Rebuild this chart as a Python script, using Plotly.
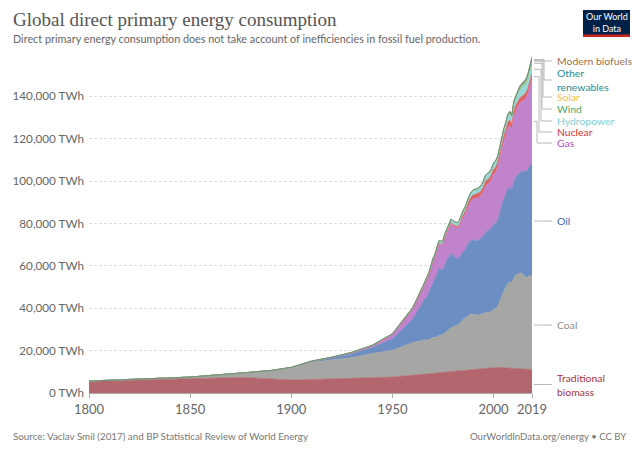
import plotly.graph_objects as go

# ---------------- data (TWh) ----------------
years = [1800, 1810, 1820, 1830, 1840, 1850, 1860, 1870, 1880, 1890, 1900, 1910, 1920, 1930, 1940, 1950, 1960] + list(range(1965, 2020))

traditional_biomass = [5556, 5833, 6111, 6389, 6667, 6944, 7222, 7222, 7222, 6667, 6111, 6389, 6667, 6944, 7222, 7500, 8333,
    8700, 8800, 8900, 9000, 9100, 9200, 9300, 9400, 9500, 9600, 9700, 9820, 9940, 10060, 10180, 10300, 10380, 10460, 10540, 10620,
    10700, 10780, 10860, 10940, 11020, 11100, 11200, 11300, 11400, 11500, 11600, 11720, 11840, 11960, 12080, 12200, 12160, 12120,
    12080, 12040, 12000, 11940, 11880, 11820, 11760, 11700, 11620, 11540, 11460, 11380, 11300, 11250, 11200, 11150, 11100]

coal = [97, 128, 153, 264, 356, 569, 1061, 1642, 2542, 3856, 5728, 8081, 9013, 9750, 11428, 12603, 15442,
    16139, 16278, 15778, 16000, 16500, 17000, 16833, 17028, 17611, 17611, 17917, 18611, 19306, 19611, 20611, 20917, 21111, 21500,
    22111, 23056, 24111, 24500, 25389, 25861, 26139, 25944, 25528, 25306, 25417, 25722, 26000, 26417, 26389, 26167, 26250, 27361,
    27667, 28611, 31194, 33444, 35806, 37750, 39778, 40417, 40222, 42333, 44056, 44361, 45194, 45194, 44083, 43250, 43556, 44250, 43861]

oil = [0, 0, 0, 0, 0, 0, 0, 6, 33, 89, 181, 397, 894, 1761, 2772, 5444, 11097,
    17972, 19278, 20611, 22389, 24194, 26222, 27583, 29611, 31694, 31000, 30861, 32667, 33694, 34778, 35083, 33500, 32389, 31417,
    31194, 31778, 31750, 32639, 33333, 34333, 34861, 35250, 35278, 35528, 35444, 36000, 36639, 37611, 38500, 38722, 39611, 40000,
    40278, 40667, 41472, 43222, 43722, 44139, 44806, 44611, 43889, 45611, 46139, 46806, 47500, 47917, 49028, 50000, 50833, 51667, 53611]

gas = [0, 0, 0, 0, 0, 0, 0, 0, 0, 33, 64, 142, 233, 603, 875, 2092, 4725,
    6528, 7056, 7611, 8250, 8972, 9722, 10361, 10917, 11500, 11667, 11722, 12306, 12639, 13139, 13861, 14000, 14167, 14222,
    14472, 15611, 16139, 16361, 17194, 17917, 18694, 19278, 19694, 19833, 20194, 20250, 20833, 21833, 21778, 22139, 22722, 23583,
    23889, 24667, 25333, 26306, 26889, 27500, 28528, 29222, 28472, 30806, 31417, 32278, 32694, 33000, 33722, 34556, 35750, 37694, 39306]

nuclear = [0] * 17 + [26, 34, 41, 53, 64, 79, 111, 155, 203, 261, 364, 432, 543, 645, 684, 712, 842, 932, 1077, 1276, 1475,
    1595, 1734, 1889, 1950, 2001, 2096, 2113, 2184, 2244, 2324, 2407, 2390, 2431, 2529, 2580, 2653, 2696, 2642, 2759, 2768,
    2803, 2745, 2738, 2698, 2756, 2651, 2461, 2489, 2535, 2571, 2613, 2636, 2701, 2796]

hydropower = [0, 0, 0, 0, 0, 0, 0, 0, 0, 0, 14, 42, 83, 147, 219, 333, 689,
    918, 985, 1010, 1062, 1123, 1178, 1233, 1280, 1307, 1423, 1443, 1461, 1508, 1614, 1690, 1734, 1760, 1815, 1874, 1930,
    1971, 1998, 2026, 2092, 2101, 2164, 2221, 2222, 2356, 2387, 2508, 2546, 2590, 2616, 2622, 2664, 2598, 2647, 2651, 2816,
    2912, 3014, 3067, 3226, 3250, 3432, 3495, 3647, 3772, 3886, 3880, 4029, 4060, 4183, 4222]

wind = [0] * 17 + [0] * 25 + [4, 4, 5, 6, 7, 8, 10, 12, 16, 21, 31, 38, 52, 63, 85, 104, 133, 171, 220, 277, 342, 437, 522,
    646, 712, 831, 960, 1136, 1270, 1430]

solar = [0] * 17 + [0] * 25 + [0, 0, 0, 0, 0, 0, 0, 0, 0, 0, 1, 1, 2, 2, 3, 4, 6, 8, 12, 20, 34, 64, 100, 139, 190, 256,
    329, 445, 585, 724]

other_renewables = [0] * 17 + [21, 22, 23, 25, 27, 30, 31, 33, 35, 37, 40, 42, 44, 46, 48, 51, 56, 62, 70, 80, 90, 98, 106,
    115, 124, 131, 137, 142, 147, 153, 160, 168, 177, 186, 197, 208, 211, 222, 233, 249, 264, 280, 300, 318, 340, 376, 410,
    442, 478, 510, 542, 566, 596, 626, 650]

modern_biofuels = [0] * 17 + [0] * 25 + [73, 76, 76, 78, 82, 88, 92, 99, 98, 96, 110, 117, 131, 155, 175, 213, 275, 354,
    464, 534, 601, 611, 618, 683, 757, 792, 818, 874, 982, 1110]

series_names = ["Traditional biomass", "Coal", "Oil", "Gas", "Nuclear", "Hydropower", "Wind", "Solar",
                "Other renewables", "Modern biofuels"]
series_values = [traditional_biomass, coal, oil, gas, nuclear, hydropower, wind, solar, other_renewables, modern_biofuels]

x_tick_vals = [1800, 1850, 1900, 1950, 2000, 2019]
y_tick_vals = [0, 20000, 40000, 60000, 80000, 100000, 120000, 140000]
y_tick_text = ["0 TWh", "20,000 TWh", "40,000 TWh", "60,000 TWh", "80,000 TWh", "100,000 TWh", "120,000 TWh", "140,000 TWh"]

# ---------------- styles ----------------
fill_colors = ["#b3666d", "#a6a7a4", "#6d8ec3", "#c283cd", "#e06666", "#98d7da", "#7cc290", "#f5d05c", "#2f9aa0", "#a98a62"]
label_colors = ["#a8323d", "#8c8c8c", "#3b66b0", "#ac52bf", "#d63232", "#7fcdd5", "#4ba865", "#f2c13e", "#1f8c96", "#99714a"]
label_texts = ["Traditional<br>biomass", "Coal", "Oil", "Gas", "Nuclear", "Hydropower", "Wind", "Solar",
               "Other<br>renewables", "Modern biofuels"]
# label vertical pixel positions (layout)
label_py = [384.5, 325, 221, 143, 132, 121, 109, 97, 80, 61]
vertical_px = [None, None, None, 537, 539, 541, 542, 543, 544, None]

W, H = 640, 452
L, R, T, B = 89, 108, 54, 59
PW, PH = W - L - R, H - T - B
Y_MAX = 160000


def px2x(px):
    return (px - L) / PW


def py2p(py):
    return (H - B - py) / PH


def py2d(py):
    return (H - B - py) / PH * Y_MAX


fig = go.Figure()
for name, vals, fc in zip(series_names, series_values, fill_colors):
    line_col = "#7b8766" if name == "Modern biofuels" else fc
    fig.add_trace(go.Scatter(
        x=years, y=vals, name=name, mode="lines", stackgroup="one",
        line=dict(width=0.7, color=line_col), fillcolor=fc, hoverinfo="x+y+name",
    ))

annotations = []
shapes = []

cum = [0] * len(years)
mids = []
for vals in series_values:
    lo = cum[-1]
    hi = lo + vals[-1]
    mids.append((lo + hi) / 2)
    cum = [c + v for c, v in zip(cum, vals)]

x_start = px2x(534)
x_end = px2x(552)
for i, (txt, col) in enumerate(zip(label_texts, label_colors)):
    ly = py2d(label_py[i])
    annotations.append(dict(
        x=px2x(555), y=ly, xref="paper", yref="y", text=txt, showarrow=False,
        xanchor="left", yanchor="middle", align="left",
        font=dict(family="Lato", size=10.4, color=col),
    ))
    line_style = dict(color="#b8b8b8", width=1)
    if vertical_px[i] is None:
        shapes.append(dict(type="line", xref="paper", yref="y", x0=x_start, x1=x_end, y0=ly, y1=ly, line=line_style))
    else:
        xv = px2x(vertical_px[i])
        sy = mids[i]
        shapes.append(dict(type="path", xref="paper", yref="y",
                           path=f"M {x_start},{sy} L {xv},{sy} L {xv},{ly} L {x_end},{ly}", line=line_style))

annotations += [
    dict(x=px2x(11), y=py2p(20), xref="paper", yref="paper", text="Global direct primary energy consumption",
         showarrow=False, xanchor="left", yanchor="middle",
         font=dict(family="Liberation Serif", size=19, color="#555555")),
    dict(x=px2x(11), y=py2p(38), xref="paper", yref="paper",
         text="Direct primary energy consumption does not take account of inefficiencies in fossil fuel production.",
         showarrow=False, xanchor="left", yanchor="middle",
         font=dict(family="Lato", size=10.8, color="#666666")),
    dict(x=px2x(11), y=py2p(436), xref="paper", yref="paper",
         text="Source: Vaclav Smil (2017) and BP Statistical Review of World Energy",
         showarrow=False, xanchor="left", yanchor="middle",
         font=dict(family="Lato", size=9.8, color="#777777")),
    dict(x=px2x(628), y=py2p(436), xref="paper", yref="paper",
         text="OurWorldInData.org/energy • CC BY",
         showarrow=False, xanchor="right", yanchor="middle",
         font=dict(family="Lato", size=9.6, color="#777777")),
    dict(x=px2x(606.5), y=py2p(22.5), xref="paper", yref="paper",
         text="Our World<br>in Data", showarrow=False, xanchor="center", yanchor="middle",
         font=dict(family="Lato", size=9, color="#ffffff")),
]

shapes += [
    dict(type="rect", xref="paper", yref="paper", x0=px2x(583), x1=px2x(630), y0=py2p(37), y1=py2p(10),
         fillcolor="#002147", line=dict(width=0), layer="above"),
    dict(type="rect", xref="paper", yref="paper", x0=px2x(583), x1=px2x(630), y0=py2p(37), y1=py2p(34.5),
         fillcolor="#ce261e", line=dict(width=0), layer="above"),
]

fig.update_layout(
    width=W, height=H,
    margin=dict(l=L, r=R, t=T, b=B, autoexpand=False),
    paper_bgcolor="white", plot_bgcolor="white",
    showlegend=False,
    font=dict(family="Lato", color="#666666"),
    xaxis=dict(range=[1800, 2019], tickvals=x_tick_vals, ticktext=[str(v) for v in x_tick_vals],
               showgrid=False, zeroline=False, showline=True, linecolor="#aaaaaa", linewidth=1, automargin=False,
               ticks="outside", ticklen=4, tickcolor="#aaaaaa", tickfont=dict(size=13, color="#666666")),
    yaxis=dict(range=[0, Y_MAX], tickvals=y_tick_vals, ticktext=y_tick_text, automargin=False,
               showgrid=True, gridcolor="#dddddd", griddash="3px,2px", gridwidth=1, zeroline=False,
               ticks="", tickfont=dict(size=11.7, color="#666666"), ticklabelstandoff=4),
    annotations=annotations,
    shapes=shapes,
)

fig.write_html("out.html")
